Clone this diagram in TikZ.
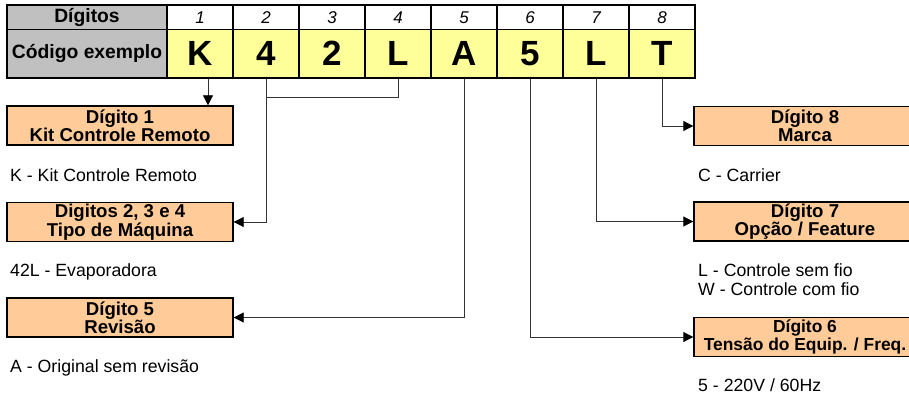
\documentclass[tikz,border=0pt]{standalone}
\usepackage{fontspec}
\setmainfont{Liberation Sans}
\usetikzlibrary{arrows.meta}
\definecolor{celgray}{HTML}{C0C0C0}
\definecolor{celyellow}{HTML}{FFFF99}
\definecolor{boxorange}{HTML}{FFCC99}
\tikzset{
  tabcell/.style={draw, line width=1.2pt, inner sep=0pt, minimum width=66pt},
  numcell/.style={tabcell, fill=white, minimum height=24.5pt, font=\fontsize{17}{20}\selectfont\itshape},
  codecell/.style={tabcell, fill=celyellow, minimum height=48.5pt, font=\fontsize{35}{40}\selectfont\bfseries},
  headcell/.style={tabcell, fill=celgray, minimum width=160pt, font=\fontsize{19.3}{22}\selectfont\bfseries},
  digitbox/.style={draw, line width=1.4pt, fill=boxorange, inner sep=0pt, minimum height=39pt, align=center, font=\fontsize{18.6}{14.8}\selectfont\bfseries},
  note/.style={anchor=base west, inner sep=0pt, align=left, font=\fontsize{17.7}{19}\selectfont},
  conn/.style={draw=black!80, line width=0.9pt},
  arr/.style={conn, -{Triangle[length=10pt,width=10pt,color=black]}}
}
\begin{document}
\begin{tikzpicture}[x=1pt,y=-1pt]
\useasboundingbox (0,0) rectangle (909,398);
\clip (0,0) rectangle (909,398);

% table with the example code
\node[headcell, minimum height=24.5pt] (hdig) at (87,17.25) {Dígitos};
\node[headcell, minimum height=48.5pt] (hcod) at (87,53.75) {Código exemplo};
\foreach \ch [count=\i] in {K,4,2,L,A,5,L,T} {
  \node[numcell] (n\i) at ({134+66*\i},17.25) {\i};
  \node[codecell] (c\i) at ({134+66*\i},53.75) {\ch};
}

% left boxes
\node[digitbox, minimum width=226pt] (d1) at (120,125.5) {Dígito 1\\Kit Controle Remoto};
\node[note] (t1) at (10,181) {K - Kit Controle Remoto};
\node[digitbox, minimum width=226pt] (d234) at (120,222) {Digitos 2, 3 e 4\\Tipo de Máquina};
\node[note] (t234) at (10,276.7) {42L - Evaporadora};
\node[digitbox, minimum width=226pt] (d5) at (120,317.5) {Dígito 5\\Revisão};
\node[note] (t5) at (10,372) {A - Original sem revisão};

% right boxes
\node[digitbox, minimum width=222pt] (d8) at (805,126) {Dígito 8\\Marca};
\node[note] (t8) at (698,181) {C - Carrier};
\node[digitbox, minimum width=222pt] (d7) at (805,221.5) {Dígito 7\\Opção / Feature};
\node[note] (t7) at (698,295.7) {L - Controle sem fio\\W - Controle com fio};
\node[digitbox, minimum width=222pt, font=\fontsize{17.4}{14.8}\selectfont\bfseries] (d6) at (805,337) {Dígito 6\\Tensão do Equip. / Freq.};
\node[note] (t6) at (698,391.5) {5 - 220V / 60Hz};

% connectors
\draw[arr] ([xshift=8pt]c1.south) -- ([xshift=8pt]c1.south |- d1.north);
\draw[conn] (c4.south) -- ++(0,19) -| (c2.south);
\draw[arr] (c2.south) |- (d234.east);
\draw[arr] (c5.south) |- (d5.east);
\draw[arr] (c6.south) |- (d6.west);
\draw[arr] (c7.south) |- (d7.west);
\draw[arr] (c8.south) |- (d8.west);
\end{tikzpicture}
\end{document}
